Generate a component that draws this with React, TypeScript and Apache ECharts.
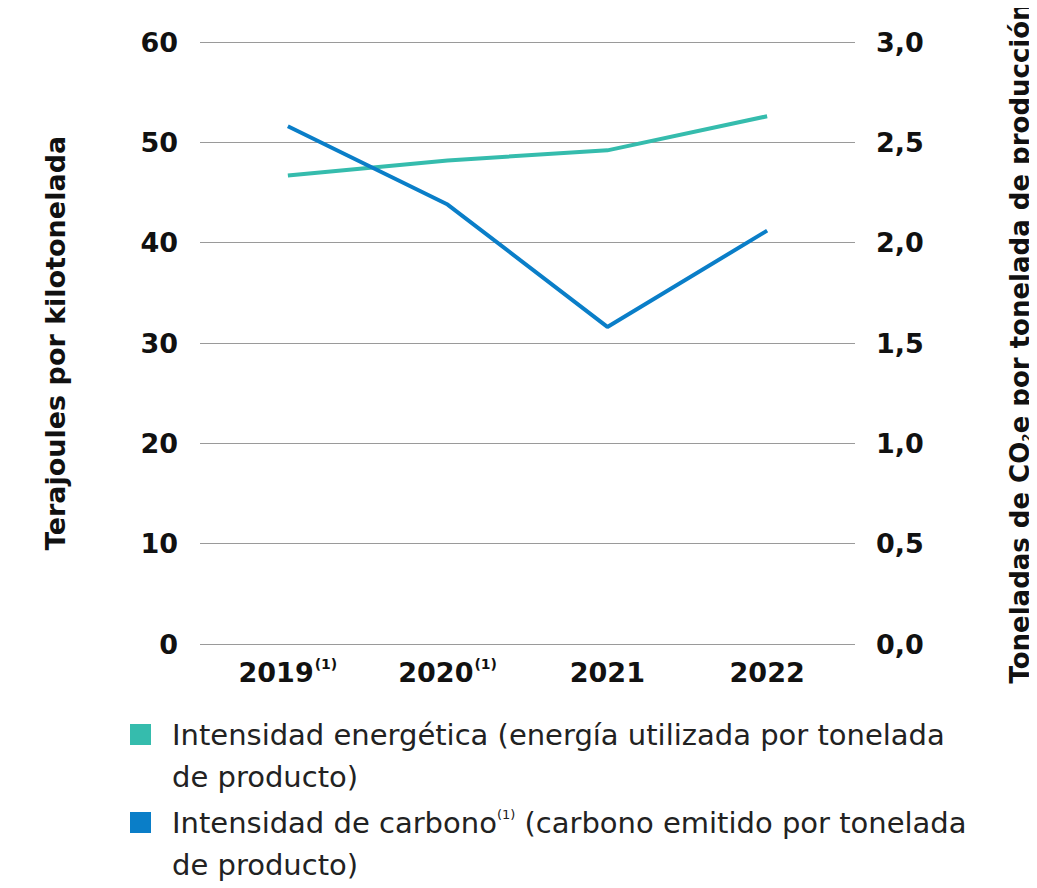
import React, { useEffect, useRef } from "react";
import * as echarts from "echarts";

const categories = ["2019", "2020", "2021", "2022"];
const categoryNotes = ["(1)", "(1)", "", ""];
const energyIntensity = [46.7, 48.2, 49.2, 52.6];
const carbonIntensity = [2.58, 2.19, 1.58, 2.06];
const seriesNames = [
  "Intensidad energética (energía utilizada por tonelada de producto)",
  "Intensidad de carbono(1) (carbono emitido por tonelada de producto)",
];
const legendLines = [
  ["Intensidad energética (energía utilizada por tonelada", "de producto)"],
  ["Intensidad de carbono{s|(1)} (carbono emitido por tonelada", "de producto)"],
];

const TEAL = "#35bcad";
const BLUE = "#0a7ec8";
const FONT = "'DejaVu Sans', sans-serif";

export default function App() {
  const ref = useRef<HTMLDivElement>(null);
  useEffect(() => {
    if (!ref.current) return;
    const chart = echarts.init(ref.current, null, { renderer: "svg" });
    const axisLabelStyle = {
      color: "#111",
      fontFamily: FONT,
      fontWeight: "bold" as const,
      fontSize: 27,
    };
    const colors = [TEAL, BLUE];
    const itemTops = [712, 800];
    const legendGraphics: any[] = [];
    legendLines.forEach((lines, k) => {
      legendGraphics.push({
        type: "rect",
        left: 122,
        top: itemTops[k] + 4,
        shape: { width: 21, height: 21 },
        style: { fill: colors[k] },
      });
      lines.forEach((line, j) => {
        legendGraphics.push({
          type: "text",
          left: 164,
          top: itemTops[k] + j * 42,
          style: {
            text: line,
            fill: "#222",
            font: `normal 29px ${FONT}`,
            lineHeight: 30,
            rich: {
              s: { fontSize: 13, fontFamily: FONT, fill: "#222", verticalAlign: "top", lineHeight: 24 },
            },
          },
        });
      });
    });
    chart.setOption({
      animation: false,
      grid: { left: 192, right: 174, top: 34, bottom: 244, outerBoundsMode: "none", containLabel: false },
      xAxis: {
        type: "value",
        min: -0.55,
        max: 3.55,
        axisLine: { show: false },
        axisTick: { show: false },
        splitLine: { show: false },
        axisLabel: {
          customValues: categories.map((_, i) => i),
          margin: 13,
          formatter: (v: number) => {
            const i = Math.round(v);
            const n = categoryNotes[i];
            return "{b|" + categories[i] + "}" + (n ? "{s|" + n + "}" : "");
          },
          rich: {
            b: { ...axisLabelStyle, lineHeight: 30 },
            s: {
              color: "#111",
              fontFamily: FONT,
              fontWeight: "bold",
              fontSize: 14,
              verticalAlign: "top",
              lineHeight: 20,
              padding: [0, 0, 0, 1],
            },
          },
        },
      },
      yAxis: [
        {
          type: "value",
          min: 0,
          max: 60,
          interval: 10,
          position: "left",
          name: "Terajoules por kilotonelada",
          nameLocation: "middle",
          nameRotate: 90,
          nameGap: 131,
          nameTextStyle: { ...axisLabelStyle, fontSize: 27 },
          axisLine: { show: false },
          axisTick: { show: false },
          axisLabel: { ...axisLabelStyle, margin: 22 },
          splitLine: { lineStyle: { color: "#9a9a9a", width: 1 } },
        },
        {
          type: "value",
          min: 0,
          max: 3,
          interval: 0.5,
          position: "right",
          name: "Toneladas de CO{sub|2}e por tonelada de producción",
          nameLocation: "middle",
          nameRotate: 90,
          nameGap: 152,
          nameTextStyle: {
            ...axisLabelStyle,
            fontSize: 26,
            rich: {
              sub: { ...axisLabelStyle, fontSize: 12, verticalAlign: "bottom", padding: [10, 0, 0, 0] },
            },
          },
          axisLine: { show: false },
          axisTick: { show: false },
          axisLabel: {
            ...axisLabelStyle,
            margin: 21,
            formatter: (v: number) => v.toFixed(1).replace(".", ","),
          },
          splitLine: { show: false },
        },
      ],
      series: [
        {
          name: seriesNames[0],
          type: "line",
          yAxisIndex: 0,
          data: energyIntensity.map((v, i) => [i, v]),
          symbol: "none",
          lineStyle: { color: TEAL, width: 4 },
          itemStyle: { color: TEAL },
        },
        {
          name: seriesNames[1],
          type: "line",
          yAxisIndex: 1,
          data: carbonIntensity.map((v, i) => [i, v]),
          symbol: "none",
          lineStyle: { color: BLUE, width: 4 },
          itemStyle: { color: BLUE },
        },
      ],
      graphic: legendGraphics,
    });
    return () => chart.dispose();
  }, []);
  return (
    <div
      ref={ref}
      style={{ position: "absolute", left: 8, top: 8, width: 1021, height: 880 }}
    />
  );
}
